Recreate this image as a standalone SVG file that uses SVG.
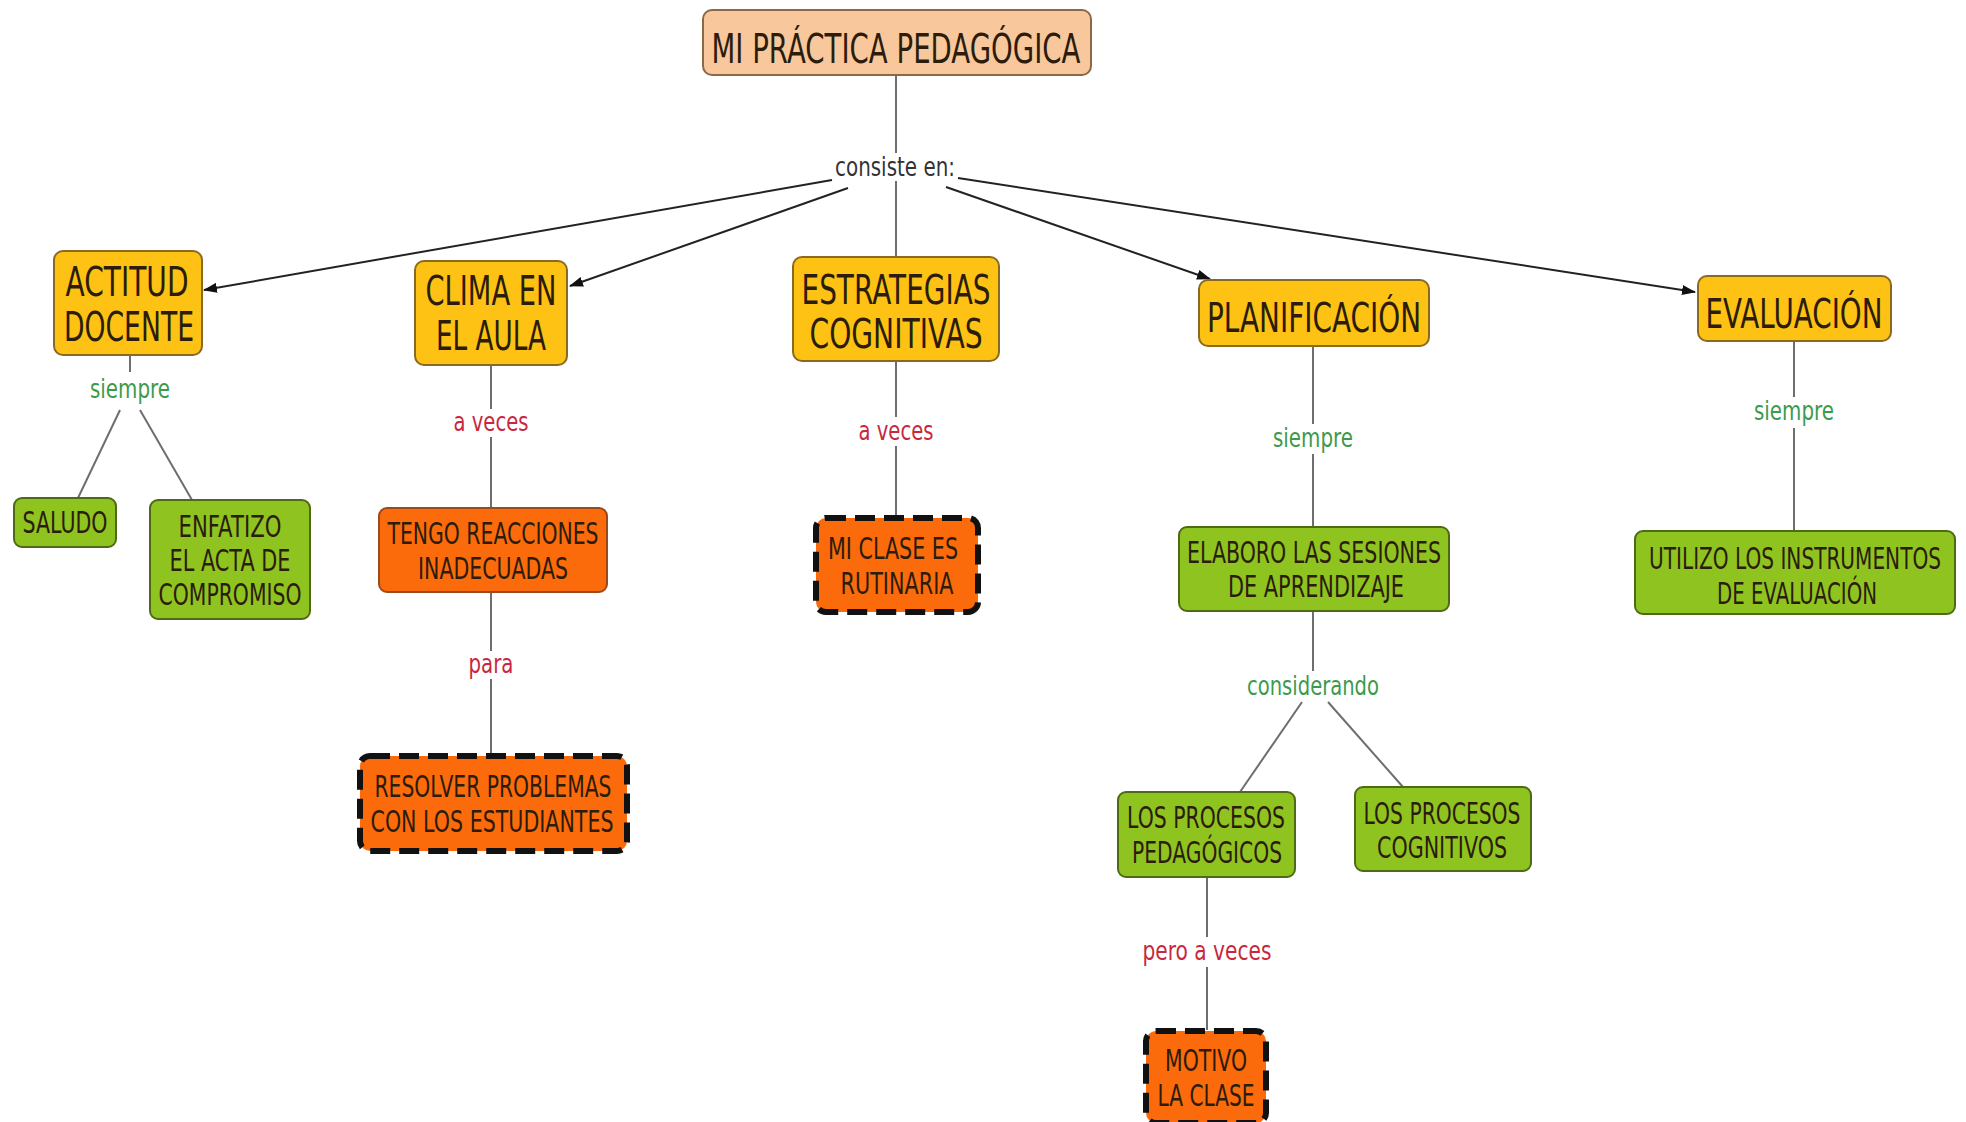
<svg xmlns="http://www.w3.org/2000/svg" width="1966" height="1122" viewBox="0 0 1966 1122">
<style>
.n rect{stroke-width:2}
.root rect{fill:#f9c79c;stroke:#8a6848}
.y rect{fill:#fdc213;stroke:#8a6a20}
.g rect{fill:#8fc320;stroke:#4f6a14}
.o rect{fill:#fb6b0b;stroke:#9a4a1c}
.d rect{fill:#fb6b0b;stroke:#111;stroke-width:6;stroke-dasharray:20 9}
text{font-family:"DejaVu Sans","Liberation Sans",Arial,sans-serif;text-anchor:middle}
.n text{fill:#2b1c0c}
.big{font-size:41px}
.sm{font-size:30px}
.lab{font-size:26px}
.gl{fill:#3c9a4c}
.rl{fill:#c8283e}
.kl{fill:#333}
.ln{stroke:#6e6e6e;stroke-width:2;fill:none}
.ar{stroke:#222;stroke-width:2;fill:none;marker-end:url(#ah)}
</style>
<defs>
<marker id="ah" viewBox="0 0 14 10" refX="13" refY="5" markerWidth="14" markerHeight="10" markerUnits="userSpaceOnUse" orient="auto">
<path d="M0,0 L14,5 L0,10 z" fill="#111"/>
</marker>
</defs>
<rect width="1966" height="1122" fill="#fff"/>
<g id="connectors">
<line class="ln" x1="896" y1="75" x2="896" y2="153"/>
<line class="ln" x1="896" y1="181" x2="896" y2="257"/>
<line class="ar" x1="832" y1="180" x2="204" y2="290"/>
<line class="ar" x1="848" y1="188" x2="570" y2="286"/>
<line class="ar" x1="946" y1="187" x2="1210" y2="279"/>
<line class="ar" x1="958" y1="178" x2="1695" y2="292"/>
<line class="ln" x1="130" y1="355" x2="130" y2="372"/>
<line class="ln" x1="120" y1="410" x2="78" y2="498"/>
<line class="ln" x1="140" y1="410" x2="192" y2="500"/>
<line class="ln" x1="491" y1="365" x2="491" y2="409"/>
<line class="ln" x1="491" y1="437" x2="491" y2="508"/>
<line class="ln" x1="491" y1="592" x2="491" y2="651"/>
<line class="ln" x1="491" y1="679" x2="491" y2="756"/>
<line class="ln" x1="896" y1="361" x2="896" y2="417"/>
<line class="ln" x1="896" y1="446" x2="896" y2="517"/>
<line class="ln" x1="1313" y1="346" x2="1313" y2="424"/>
<line class="ln" x1="1313" y1="454" x2="1313" y2="527"/>
<line class="ln" x1="1313" y1="611" x2="1313" y2="671"/>
<line class="ln" x1="1302" y1="702" x2="1240" y2="792"/>
<line class="ln" x1="1328" y1="702" x2="1403" y2="787"/>
<line class="ln" x1="1207" y1="877" x2="1207" y2="937"/>
<line class="ln" x1="1207" y1="967" x2="1207" y2="1030"/>
<line class="ln" x1="1794" y1="341" x2="1794" y2="397"/>
<line class="ln" x1="1794" y1="428" x2="1794" y2="532"/>
<text class="lab kl" x="895" y="176" textLength="120" lengthAdjust="spacingAndGlyphs">consiste en:</text>
<text class="lab gl" x="130" y="398" textLength="80" lengthAdjust="spacingAndGlyphs">siempre</text>
<text class="lab rl" x="491" y="431" textLength="75" lengthAdjust="spacingAndGlyphs">a veces</text>
<text class="lab rl" x="491" y="673" textLength="45" lengthAdjust="spacingAndGlyphs">para</text>
<text class="lab rl" x="896" y="440" textLength="75" lengthAdjust="spacingAndGlyphs">a veces</text>
<text class="lab gl" x="1313" y="447" textLength="80" lengthAdjust="spacingAndGlyphs">siempre</text>
<text class="lab gl" x="1313" y="695" textLength="132" lengthAdjust="spacingAndGlyphs">considerando</text>
<text class="lab rl" x="1207" y="960" textLength="129" lengthAdjust="spacingAndGlyphs">pero a veces</text>
<text class="lab gl" x="1794" y="420" textLength="80" lengthAdjust="spacingAndGlyphs">siempre</text>
</g>
<g id="n-root" class="n root"><rect x="703" y="10" width="388" height="65" rx="9"/><text class="big" x="896" y="63" textLength="369" lengthAdjust="spacingAndGlyphs">MI PRÁCTICA PEDAGÓGICA</text></g>
<g id="n-actitud" class="n y"><rect x="54" y="251" width="148" height="104" rx="9"/><text class="big" x="127" y="296" textLength="123" lengthAdjust="spacingAndGlyphs">ACTITUD</text><text class="big" x="129" y="341" textLength="130" lengthAdjust="spacingAndGlyphs">DOCENTE</text></g>
<g id="n-clima" class="n y"><rect x="415" y="261" width="152" height="104" rx="9"/><text class="big" x="491" y="305" textLength="131" lengthAdjust="spacingAndGlyphs">CLIMA EN</text><text class="big" x="491" y="350" textLength="110" lengthAdjust="spacingAndGlyphs">EL AULA</text></g>
<g id="n-estrategias" class="n y"><rect x="793" y="257" width="206" height="104" rx="9"/><text class="big" x="896" y="304" textLength="189" lengthAdjust="spacingAndGlyphs">ESTRATEGIAS</text><text class="big" x="896" y="348" textLength="173" lengthAdjust="spacingAndGlyphs">COGNITIVAS</text></g>
<g id="n-planificacion" class="n y"><rect x="1199" y="280" width="230" height="66" rx="9"/><text class="big" x="1314" y="332" textLength="214" lengthAdjust="spacingAndGlyphs">PLANIFICACIÓN</text></g>
<g id="n-evaluacion" class="n y"><rect x="1698" y="276" width="193" height="65" rx="9"/><text class="big" x="1794" y="328" textLength="177" lengthAdjust="spacingAndGlyphs">EVALUACIÓN</text></g>
<g id="n-saludo" class="n g"><rect x="14" y="498" width="102" height="49" rx="8"/><text class="sm" x="65" y="533" textLength="85" lengthAdjust="spacingAndGlyphs">SALUDO</text></g>
<g id="n-enfatizo" class="n g"><rect x="150" y="500" width="160" height="119" rx="8"/><text class="sm" x="230" y="537" textLength="103" lengthAdjust="spacingAndGlyphs">ENFATIZO</text><text class="sm" x="230" y="571" textLength="121" lengthAdjust="spacingAndGlyphs">EL ACTA DE</text><text class="sm" x="230" y="605" textLength="143" lengthAdjust="spacingAndGlyphs">COMPROMISO</text></g>
<g id="n-tengo" class="n o"><rect x="379" y="508" width="228" height="84" rx="8"/><text class="sm" x="493" y="544" textLength="211" lengthAdjust="spacingAndGlyphs">TENGO REACCIONES</text><text class="sm" x="493" y="579" textLength="150" lengthAdjust="spacingAndGlyphs">INADECUADAS</text></g>
<g id="n-resolver" class="n d"><rect x="360" y="756" width="267" height="95" rx="10"/><text class="sm" x="493" y="797" textLength="237" lengthAdjust="spacingAndGlyphs">RESOLVER PROBLEMAS</text><text class="sm" x="492" y="832" textLength="243" lengthAdjust="spacingAndGlyphs">CON LOS ESTUDIANTES</text></g>
<g id="n-rutinaria" class="n d"><rect x="816" y="518" width="162" height="94" rx="10"/><text class="sm" x="893" y="559" textLength="130" lengthAdjust="spacingAndGlyphs">MI CLASE ES</text><text class="sm" x="897" y="594" textLength="113" lengthAdjust="spacingAndGlyphs">RUTINARIA</text></g>
<g id="n-elaboro" class="n g"><rect x="1179" y="527" width="270" height="84" rx="8"/><text class="sm" x="1314" y="563" textLength="254" lengthAdjust="spacingAndGlyphs">ELABORO LAS SESIONES</text><text class="sm" x="1316" y="597" textLength="176" lengthAdjust="spacingAndGlyphs">DE APRENDIZAJE</text></g>
<g id="n-utilizo" class="n g"><rect x="1635" y="531" width="320" height="83" rx="8"/><text class="sm" transform="translate(1795 569) scale(0.668 1)" x="0" y="0" textLength="437" lengthAdjust="spacingAndGlyphs">UTILIZO LOS INSTRUMENTOS</text><text class="sm" x="1797" y="604" textLength="160" lengthAdjust="spacingAndGlyphs">DE EVALUACIÓN</text></g>
<g id="n-pedagogicos" class="n g"><rect x="1118" y="792" width="177" height="85" rx="8"/><text class="sm" x="1206" y="828" textLength="158" lengthAdjust="spacingAndGlyphs">LOS PROCESOS</text><text class="sm" x="1207" y="863" textLength="150" lengthAdjust="spacingAndGlyphs">PEDAGÓGICOS</text></g>
<g id="n-cognitivos" class="n g"><rect x="1355" y="787" width="176" height="84" rx="8"/><text class="sm" x="1442" y="824" textLength="157" lengthAdjust="spacingAndGlyphs">LOS PROCESOS</text><text class="sm" x="1442" y="858" textLength="130" lengthAdjust="spacingAndGlyphs">COGNITIVOS</text></g>
<g id="n-motivo" class="n d"><rect x="1146" y="1031" width="120" height="92" rx="10"/><text class="sm" x="1206" y="1071" textLength="82" lengthAdjust="spacingAndGlyphs">MOTIVO</text><text class="sm" x="1206" y="1106" textLength="97" lengthAdjust="spacingAndGlyphs">LA CLASE</text></g>
</svg>
